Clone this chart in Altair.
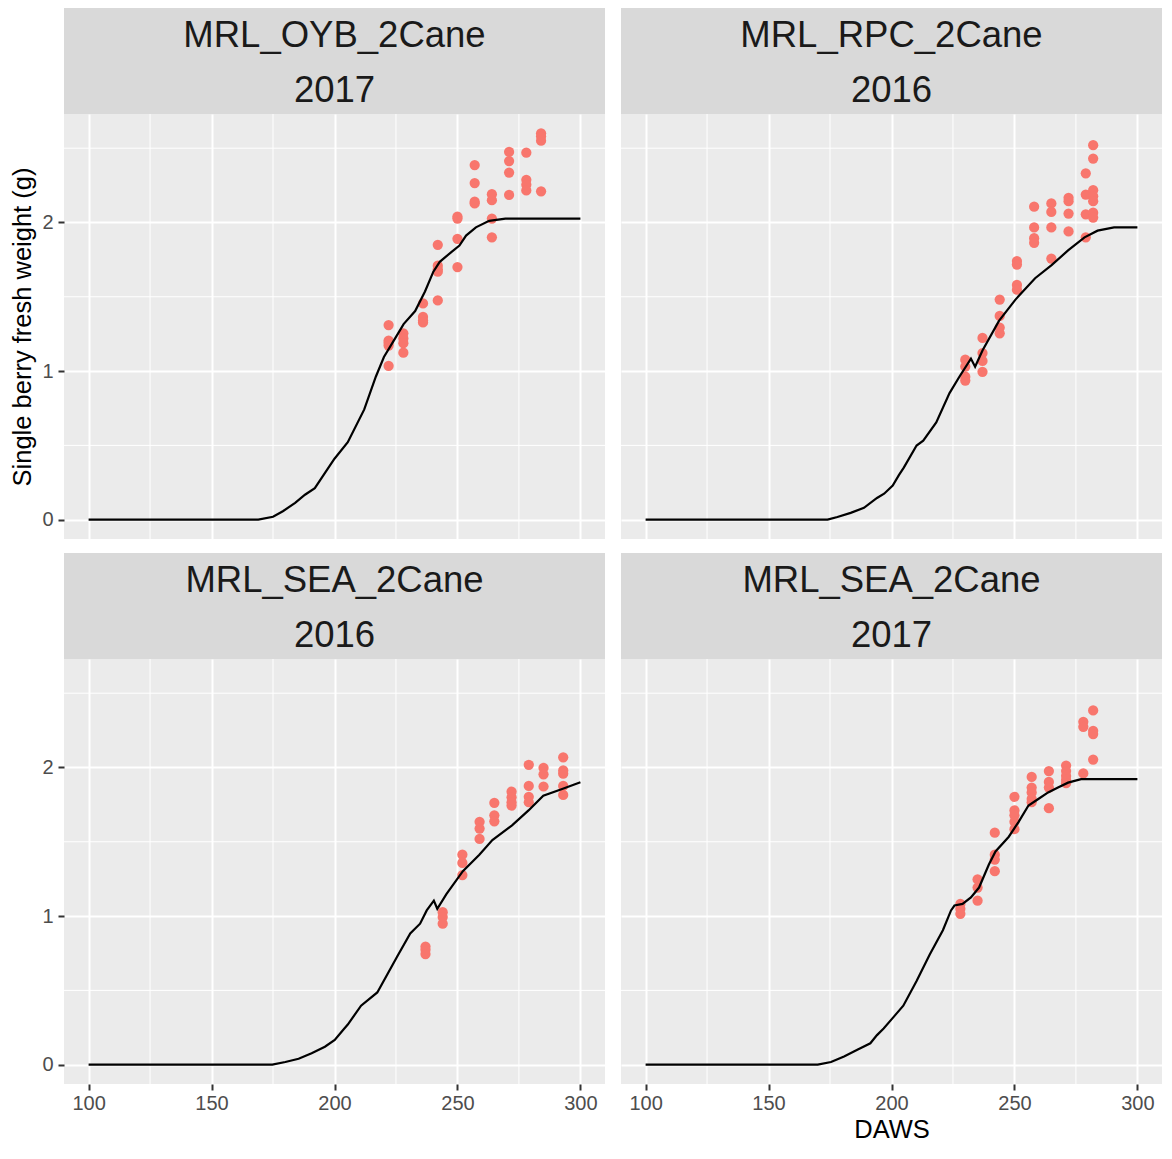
import altair as alt
import pandas as pd

# ---------------- data ----------------
sites = ["MRL_OYB_2Cane", "MRL_RPC_2Cane", "MRL_SEA_2Cane", "MRL_SEA_2Cane"]
years = ["2017", "2016", "2016", "2017"]

major_x = [100, 150, 200, 250, 300]
minor_x = [125, 175, 225, 275]
major_y = [0, 1, 2]
minor_y = [0.5, 1.5, 2.5]

# Panel 1: MRL_OYB_2Cane 2017
oyb17_obs_daws = [222, 222, 222, 222, 222, 228, 228, 228, 228, 236, 236, 236, 236,
                  242, 242, 242, 242, 242, 250, 250, 250, 250, 257, 257, 257, 257,
                  264, 264, 264, 264, 271, 271, 271, 271, 278, 278, 278, 278,
                  284, 284, 284, 284]
oyb17_obs_wt = [1.31, 1.205, 1.19, 1.172, 1.035, 1.254, 1.22, 1.188, 1.124,
                1.455, 1.364, 1.34, 1.327, 1.85, 1.709, 1.685, 1.669, 1.475,
                2.04, 2.026, 1.89, 1.70, 2.386, 2.265, 2.14, 2.128,
                2.19, 2.15, 2.026, 1.90, 2.475, 2.413, 2.336, 2.185,
                2.47, 2.287, 2.254, 2.216, 2.60, 2.578, 2.55, 2.21]
oyb17_sim_daws = [100, 169, 175, 179, 184, 188, 192, 196, 200, 205.4, 212.1, 216.8,
                  220.1, 224.1, 228.1, 232.8, 236.8, 240.2, 242.8, 247.5, 250.8,
                  253.5, 257.5, 262.9, 269.5, 300]
oyb17_sim_wt = [0, 0, 0.02, 0.057, 0.113, 0.168, 0.212, 0.311, 0.41, 0.521, 0.742,
                0.962, 1.095, 1.205, 1.316, 1.404, 1.536, 1.669, 1.735, 1.801, 1.845,
                1.912, 1.967, 2.011, 2.026, 2.026]

# Panel 2: MRL_RPC_2Cane 2016
rpc16_obs_daws = [230, 230, 230, 230, 237, 237, 237, 237, 244, 244, 244, 244,
                  251, 251, 251, 251, 258, 258, 258, 258, 265, 265, 265, 265,
                  272, 272, 272, 272, 279, 279, 279, 279,
                  282, 282, 282, 282, 282, 282, 282]
rpc16_obs_wt = [1.077, 1.03, 0.962, 0.936, 1.223, 1.121, 1.068, 0.995,
                1.481, 1.371, 1.293, 1.254, 1.74, 1.717, 1.58, 1.548,
                2.106, 1.967, 1.894, 1.863, 2.128, 2.071, 1.967, 1.757,
                2.166, 2.143, 2.06, 1.94, 2.331, 2.188, 2.055, 1.90,
                2.52, 2.43, 2.217, 2.177, 2.143, 2.066, 2.033]
rpc16_sim_daws = [100, 174, 178, 183.4, 188.8, 194.1, 197, 200.5, 203, 205, 210.2,
                  212.9, 218.2, 223.6, 227.6, 232.3, 234.0, 237.0, 243.7, 250.4,
                  258.4, 265.1, 271.8, 278.5, 283.8, 290.5, 300]
rpc16_sim_wt = [0, 0, 0.018, 0.046, 0.08, 0.146, 0.175, 0.23, 0.30, 0.35, 0.499,
                0.532, 0.654, 0.852, 0.962, 1.084, 1.029, 1.139, 1.338, 1.481,
                1.625, 1.713, 1.812, 1.900, 1.945, 1.967, 1.967]

# Panel 3: MRL_SEA_2Cane 2016
sea16_obs_daws = [237, 237, 237, 244, 244, 244, 252, 252, 252, 259, 259, 259,
                  265, 265, 265, 272, 272, 272, 272, 279, 279, 279, 279,
                  285, 285, 285, 293, 293, 293, 293, 293]
sea16_obs_wt = [0.795, 0.773, 0.744, 1.026, 0.993, 0.949, 1.413, 1.358, 1.276,
                1.634, 1.589, 1.519, 1.762, 1.678, 1.638, 1.837, 1.799, 1.766, 1.744,
                2.018, 1.876, 1.803, 1.766, 1.998, 1.954, 1.872,
                2.068, 1.98, 1.958, 1.876, 1.815]
sea16_sim_daws = [100, 174.7, 180, 185.4, 190.7, 196.1, 200.1, 203.4, 205.4, 210.8,
                  217.4, 225.5, 230.8, 234.8, 237.5, 240.4, 241.8, 245.5, 252.2,
                  258.9, 264.2, 272.2, 278.9, 284.9, 292.3, 300]
sea16_sim_wt = [0, 0, 0.018, 0.04, 0.077, 0.121, 0.166, 0.232, 0.27, 0.397, 0.486,
                0.728, 0.883, 0.949, 1.038, 1.104, 1.049, 1.148, 1.302, 1.413,
                1.512, 1.611, 1.711, 1.810, 1.854, 1.9]

# Panel 4: MRL_SEA_2Cane 2017
sea17_obs_daws = [228, 228, 228, 235, 235, 235, 242, 242, 242, 242,
                  250, 250, 250, 250, 250, 257, 257, 257, 257, 257,
                  264, 264, 264, 264, 271, 271, 271, 271, 271,
                  278, 278, 278, 282, 282, 282, 282]
sea17_obs_wt = [1.082, 1.049, 1.015, 1.247, 1.192, 1.104, 1.561, 1.413, 1.38, 1.302,
                1.803, 1.711, 1.678, 1.634, 1.585, 1.936, 1.865, 1.832, 1.788, 1.766,
                1.976, 1.903, 1.865, 1.726, 2.013, 1.976, 1.943, 1.916, 1.894,
                2.307, 2.274, 1.96, 2.384, 2.247, 2.225, 2.053]
sea17_sim_daws = [100, 170, 175.4, 180.7, 186.1, 191.4, 194.1, 196.8, 200.8, 204.8,
                  210.2, 215.5, 220.9, 224.2, 225.6, 228.9, 232.3, 235.6, 239.6,
                  242.3, 247.7, 251.7, 255.7, 259.7, 263.7, 267.7, 271.8, 277.1, 300]
sea17_sim_wt = [0, 0, 0.018, 0.055, 0.1, 0.144, 0.199, 0.243, 0.32, 0.397, 0.563,
                0.74, 0.905, 1.038, 1.071, 1.082, 1.126, 1.192, 1.347, 1.435, 1.534,
                1.634, 1.744, 1.788, 1.832, 1.865, 1.898, 1.921, 1.921]

# ---------------- layout ----------------
W, PH, SH = 541, 425, 106
XDOM = [90, 310]
YDOM = [-0.13, 2.73]
FONT = "Liberation Sans"


def panel(i, obs_d, obs_w, sim_d, sim_w, x_labels, y_labels, x_title, y_title):
    obs = pd.DataFrame({"DAWS": obs_d, "weight": obs_w})
    sim = pd.DataFrame({"DAWS": sim_d, "weight": sim_w})
    strip = pd.DataFrame({"site": [sites[i]], "year": [years[i]]})
    mx = pd.DataFrame({"DAWS": minor_x})
    my = pd.DataFrame({"weight": minor_y})

    xs = alt.Scale(domain=XDOM, nice=False, zero=False)
    ys = alt.Scale(domain=YDOM, nice=False, zero=False)

    xa = dict(values=major_x, grid=True, labelFlush=False)
    if x_labels:
        xa.update(labels=True, ticks=True)
    else:
        xa.update(labels=False, ticks=False)
    xa["title"] = x_title if x_title else None

    ya = dict(values=major_y, grid=True, labelFlush=False)
    if y_labels:
        ya.update(labels=True, ticks=True)
    else:
        ya.update(labels=False, ticks=False)
    ya["title"] = y_title if y_title else None

    X = alt.X("DAWS:Q", scale=xs, axis=alt.Axis(**xa))
    Y = alt.Y("weight:Q", scale=ys, axis=alt.Axis(**ya))

    strip_bg = alt.Chart(strip).mark_rect(color="#D9D9D9").encode(
        x=alt.value(0), x2=alt.value(W), y=alt.value(-SH), y2=alt.value(0))
    t1 = alt.Chart(strip).mark_text(font=FONT, fontSize=36.5, color="#1A1A1A",
                                    align="center", baseline="alphabetic").encode(
        x=alt.value(W / 2), y=alt.value(-SH + 38.5), text="site:N")
    t2 = alt.Chart(strip).mark_text(font=FONT, fontSize=36.5, color="#1A1A1A",
                                    align="center", baseline="alphabetic").encode(
        x=alt.value(W / 2), y=alt.value(-12.5), text="year:N")
    gx = alt.Chart(mx).mark_rule(color="white", strokeWidth=1).encode(x=X)
    gy = alt.Chart(my).mark_rule(color="white", strokeWidth=1).encode(y=Y)
    pts = alt.Chart(obs).mark_circle(color="#F8766D", size=105, opacity=1).encode(x=X, y=Y)
    line = alt.Chart(sim).mark_line(color="black", strokeWidth=2.2).encode(x=X, y=Y)

    return alt.layer(strip_bg, t1, t2, gx, gy, pts, line).properties(width=W, height=PH)


p1 = panel(0, oyb17_obs_daws, oyb17_obs_wt, oyb17_sim_daws, oyb17_sim_wt,
           False, True, None, "Single berry fresh weight (g)")
p2 = panel(1, rpc16_obs_daws, rpc16_obs_wt, rpc16_sim_daws, rpc16_sim_wt,
           False, False, None, None)
p3 = panel(2, sea16_obs_daws, sea16_obs_wt, sea16_sim_daws, sea16_sim_wt,
           True, True, None, None)
p4 = panel(3, sea17_obs_daws, sea17_obs_wt, sea17_sim_daws, sea17_sim_wt,
           True, False, "DAWS", None)

chart = alt.concat(p1, p2, p3, p4, columns=2,
                   spacing=alt.RowColnumber(row=13, column=14)).properties(
    padding={"left": 2, "top": 0, "right": 0, "bottom": 0}, background="white"
).configure_view(
    strokeWidth=0, fill="#EBEBEB"
).configure_axis(
    domain=False, tickColor="#333333", tickWidth=2, tickSize=6,
    labelColor="#4D4D4D", labelFontSize=20, labelFont=FONT,
    titleFont=FONT, titleFontSize=25.5, titleFontWeight="normal", titleColor="black",
    gridColor="white", gridWidth=2, gridOpacity=1
).configure_axisX(
    labelPadding=3, titlePadding=4
).configure_axisY(
    labelPadding=5, titlePadding=6
)

chart.save("out.html", embed_options={"renderer": "svg", "actions": False})
